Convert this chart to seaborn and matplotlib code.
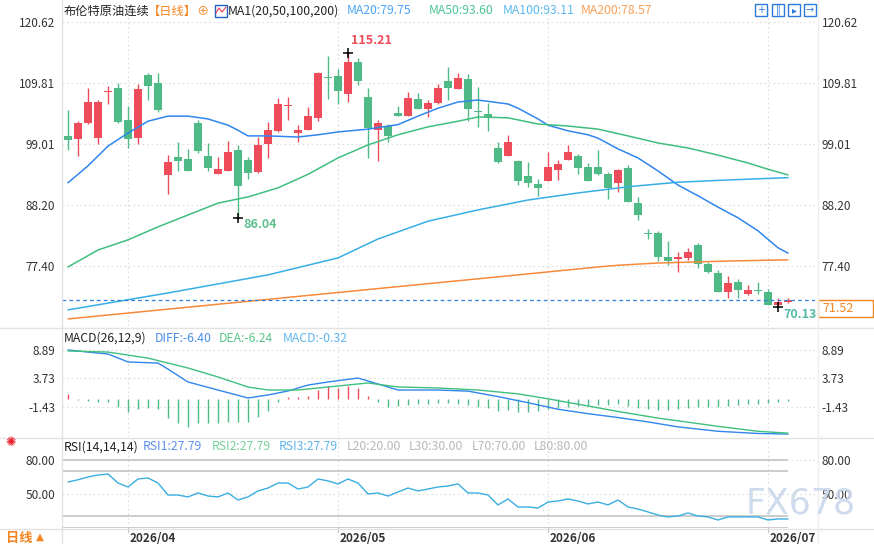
import numpy as np
import pandas as pd
import matplotlib
matplotlib.use("Agg")
import matplotlib.pyplot as plt
import matplotlib.transforms as mtrans
from matplotlib.patches import Rectangle
from matplotlib.lines import Line2D
import seaborn as sns

# ---------------- data ----------------
open_ = [100.5, 100.0, 102.7, 100.2, 108.2, 109.0, 103.3, 100.2, 111.3, 109.9,
         93.5, 96.8, 96.4, 102.8, 96.9, 93.8, 94.3, 98.0, 96.2, 94.1,
         99.1, 101.4, 105.8, 101.1, 101.5, 103.7, 110.9, 111.1, 107.9, 113.6,
         107.4, 101.6, 102.3, 104.6, 104.1, 107.0, 105.3, 106.3, 110.2, 108.8,
         110.6, 104.8, 104.4, 98.4, 96.9, 96.1, 93.4, 92.0, 92.5, 94.5,
         96.2, 96.9, 95.0, 95.0, 93.8, 92.2, 94.8, 88.6, 83.3, 83.3,
         79.1, 78.7, 78.9, 81.2, 77.8, 76.2, 72.9, 74.6, 72.5, 73.2,
         72.9, 70.6, 71.1]
high = [105.0, 103.1, 108.9, 106.85, 109.3, 109.9, 105.8, 109.7, 111.6, 111.6,
        97.1, 99.4, 98.2, 103.3, 99.2, 96.8, 99.6, 98.9, 96.8, 100.3,
        103.0, 107.2, 107.4, 102.4, 105.6, 111.8, 114.6, 112.3, 115.21, 114.3,
        109.0, 103.3, 102.6, 105.8, 108.3, 108.1, 106.9, 109.7, 112.7, 111.6,
        111.5, 109.2, 106.3, 99.4, 100.7, 96.2, 95.9, 92.9, 97.7, 96.2,
        98.9, 97.3, 95.7, 98.0, 94.1, 94.6, 95.4, 89.7, 84.0, 83.6,
        81.9, 80.0, 80.7, 81.6, 78.2, 76.8, 75.7, 75.2, 74.1, 74.6,
        73.4, 71.8, 71.75]
low = [98.0, 97.0, 102.6, 99.1, 106.2, 102.7, 98.4, 99.1, 106.9, 104.8,
       90.3, 94.3, 94.2, 97.5, 94.3, 93.8, 94.3, 86.04, 92.8, 93.9,
       96.5, 101.2, 103.4, 99.5, 101.5, 103.2, 107.0, 106.1, 106.5, 109.5,
       96.6, 96.1, 99.5, 104.0, 104.0, 105.2, 103.9, 106.1, 106.9, 108.8,
       103.1, 102.1, 101.4, 95.7, 96.9, 91.8, 91.5, 89.9, 92.5, 92.7,
       96.2, 93.8, 92.5, 93.5, 89.3, 90.6, 88.8, 85.6, 82.3, 78.4,
       77.6, 76.4, 78.5, 77.1, 76.2, 72.9, 71.8, 71.8, 72.3, 72.5,
       70.6, 70.13, 71.0]
close = [99.8, 102.8, 106.5, 106.5, 108.4, 103.0, 100.0, 108.8, 109.4, 105.1,
         95.9, 96.1, 94.2, 97.9, 94.9, 94.6, 97.6, 91.7, 94.0, 98.9,
         101.5, 106.1, 106.0, 101.5, 104.0, 111.6, 110.7, 108.5, 113.6, 110.2,
         101.9, 102.8, 100.4, 104.1, 107.2, 105.3, 106.3, 109.0, 109.0, 110.8,
         105.3, 104.7, 103.8, 95.9, 99.4, 92.5, 92.2, 91.3, 95.0, 95.5,
         97.7, 94.8, 92.5, 93.8, 91.3, 94.5, 88.8, 86.5, 83.2, 79.1,
         78.4, 79.1, 80.0, 77.8, 76.4, 72.9, 74.5, 73.2, 73.2, 73.1,
         70.6, 71.1, 71.52]

ma20_i = [0, 2, 4, 6, 8, 10, 12, 14, 16, 17, 18, 20, 23, 25, 27, 30, 33, 35, 37, 39,
          41, 44, 45, 47, 48, 50, 52, 53, 55, 57, 59, 61, 63, 65, 67, 69, 71, 72]
ma20_v = [92.2, 95.2, 98.7, 101.0, 103.1, 104.0, 104.0, 103.5, 102.4, 101.5, 100.5,
          100.5, 100.3, 100.7, 101.2, 101.7, 102.5, 104.0, 105.4, 106.5, 106.85, 106.15,
          105.4, 103.5, 102.4, 101.4, 100.7, 100.1, 98.2, 96.6, 94.3, 91.8, 89.9, 87.9,
          86.0, 83.7, 80.7, 79.75]
ma50_i = [0, 3, 6, 9, 12, 15, 18, 21, 24, 27, 30, 33, 36, 39, 41, 44, 47, 50, 53, 56,
          59, 62, 65, 68, 70, 72]
ma50_v = [77.3, 80.3, 82.1, 84.4, 86.5, 88.6, 89.7, 91.3, 93.7, 96.6, 98.9, 100.7,
          102.1, 103.1, 103.85, 103.7, 102.6, 102.25, 101.7, 100.5, 99.25, 98.36, 97.1,
          95.7, 94.6, 93.6]
ma100_i = [0, 10, 20, 27, 31, 36, 41, 46, 51, 56, 61, 66, 72]
ma100_v = [69.7, 72.7, 75.9, 78.9, 82.25, 85.4, 87.4, 89.15, 90.4, 91.5, 92.3, 92.7, 93.11]
ma200_i = [0, 15, 30, 45, 53, 55, 59, 66, 72]
ma200_v = [68.1, 70.7, 73.3, 75.9, 77.3, 77.6, 78.0, 78.35, 78.57]

diff_i = [0, 2, 4, 6, 9, 10, 12, 15, 18, 20, 22, 24, 26, 29, 30, 33, 37, 40, 43, 46,
          49, 52, 55, 58, 61, 65, 69, 72]
diff_v = [8.88, 8.5, 8.15, 6.7, 6.5, 5.4, 3.06, 1.6, 0.15, 0.7, 1.42, 2.5, 3.06, 3.78,
          3.24, 1.6, 1.6, 1.4, 0.4, -0.7, -1.9, -2.7, -3.4, -4.2, -5.1, -5.9, -6.3, -6.40]
dea_i = [0, 4, 8, 12, 15, 18, 20, 23, 26, 30, 33, 37, 41, 45, 48, 52, 55, 59, 65, 69, 72]
dea_v = [8.7, 8.5, 7.4, 5.6, 3.97, 2.15, 1.6, 1.6, 2.15, 2.88, 2.15, 1.97, 1.6, 0.9,
         0.0, -1.3, -2.3, -3.5, -5.0, -5.9, -6.24]
macd_hist = [0.9, -0.2, -0.35, -0.55, -0.55, -1.45, -2.36, -1.8, -1.6, -1.8,
             -3.45, -4.36, -5.1, -4.36, -4.36, -4.36, -4.2, -4.2, -4.2, -3.3,
             -2.2, -0.55, 0.36, 0.36, 0.55, 1.64, 2.36, 2.0, 2.36, 2.0,
             0.55, -0.55, -1.45, -1.27, -1.1, -0.9, -0.9, -0.7, -0.8, -0.9,
             -1.2, -1.5, -1.7, -2.2, -2.0, -2.4, -2.4, -2.3, -1.9, -1.6,
             -1.4, -1.3, -1.3, -1.2, -1.2, -1.0, -1.3, -1.6, -1.8, -2.0,
             -2.0, -1.8, -1.6, -1.5, -1.4, -1.5, -1.3, -1.2, -1.0, -0.9,
             -0.8, -0.6, -0.32]

rsi = [60.5, 62.5, 65.0, 66.7, 67.6, 59.6, 56.1, 63.2, 64.1, 59.6,
       49.0, 49.0, 47.3, 50.8, 48.1, 47.3, 50.8, 44.6, 47.3, 52.6,
       55.2, 59.6, 59.6, 54.3, 56.1, 63.2, 61.5, 58.8, 63.2, 59.6,
       49.9, 50.8, 48.1, 51.7, 55.2, 52.6, 54.3, 56.1, 57.0, 58.8,
       50.8, 50.8, 49.0, 40.2, 45.5, 38.4, 38.4, 37.5, 42.8, 43.7,
       45.5, 43.7, 41.1, 42.8, 40.2, 44.6, 38.4, 36.6, 34.0, 31.3,
       29.6, 30.4, 33.1, 30.4, 29.6, 26.9, 29.6, 29.6, 29.6, 29.6,
       26.9, 27.8, 27.79]
rsi_levels = [20, 30, 70, 80]

month_idx = [6, 27, 48, 70]
month_lab = ["2026/04", "2026/05", "2026/06", "2026/07"]
price_ticks = [120.62, 109.81, 99.01, 88.20, 77.40]
macd_ticks = [8.89, 3.73, -1.43]
rsi_ticks = [80.00, 50.00]

# ---------------- style ----------------
RED = "#ee4c5a"
GREEN = "#4fba86"
C_MA20, C_MA50, C_MA100, C_MA200 = "#2f86ee", "#3fbf7f", "#38aee6", "#f7893b"
ORANGE = "#f5841f"
TXT = "#333333"
GRID = "#dcdcdc"

sns.set_theme(style="white")
plt.rcParams["font.family"] = ["Noto Sans CJK SC", "DejaVu Sans"]

W, H = 874, 544
fig = plt.figure(figsize=(W / 100, H / 100), dpi=100)


def box(top, bottom, left=62, right=815):
    return [left / W, 1 - bottom / H, (right - left) / W, (bottom - top) / H]


def fx(px):
    return px / W


def fy(py):
    return 1 - py / H


ax = fig.add_axes(box(8, 326))
axm = fig.add_axes(box(330, 437))
axr = fig.add_axes(box(440, 528))

n = len(close)
idx = np.arange(n)
o = np.array(open_)
c = np.array(close)
hi = np.array(high)
lo = np.array(low)
cols = np.where(c >= o, RED, GREEN)

for a in (ax, axm, axr):
    a.set_xlim(-0.6, 74.7)
    for s in a.spines.values():
        s.set_visible(False)
    a.set_xticks([])
    a.tick_params(axis="y", length=0, labelsize=8.5, labelcolor=TXT, pad=5,
                  labelleft=True, labelright=True)
    for m in month_idx:
        a.axvline(m, color=GRID, ls=(0, (1.5, 2.5)), lw=0.8, zorder=0)

# ---------------- main panel ----------------
ax.set_ylim(66.85, 123.14)
ax.set_yticks(price_ticks)
ax.set_yticklabels([f"{t:.2f}" for t in price_ticks])
for t in price_ticks:
    ax.axhline(t, color=GRID, ls=(0, (1.5, 2.5)), lw=0.8, zorder=0)

ax.vlines(idx, lo, hi, colors=cols, lw=1.0, zorder=2)
body_lo = np.minimum(o, c)
body_h = np.maximum(np.abs(c - o), 0.18)
ax.bar(idx, body_h, bottom=body_lo, width=0.85, color=cols, linewidth=0, zorder=3)

ma = pd.concat([
    pd.DataFrame({"i": ma20_i, "v": ma20_v, "name": "MA20"}),
    pd.DataFrame({"i": ma50_i, "v": ma50_v, "name": "MA50"}),
    pd.DataFrame({"i": ma100_i, "v": ma100_v, "name": "MA100"}),
    pd.DataFrame({"i": ma200_i, "v": ma200_v, "name": "MA200"}),
])
sns.lineplot(data=ma, x="i", y="v", hue="name",
             palette={"MA20": C_MA20, "MA50": C_MA50, "MA100": C_MA100, "MA200": C_MA200},
             lw=1.1, legend=False, ax=ax, zorder=4)
ax.set_xlabel("")
ax.set_ylabel("")

# last price line and box
ax.axhline(c[-1], color="#2f7fe0", ls=(0, (3, 2.5)), lw=0.9, zorder=5)
yl = ax.transData.transform((0, c[-1]))[1]
ybox = H - yl
fig.patches.append(Rectangle((fx(818), fy(ybox + 17)), fx(55), 17 / H,
                             transform=fig.transFigure, fc="white", ec=ORANGE, lw=1))
fig.text(fx(822), fy(ybox + 8.5), f"{c[-1]:.2f}", color=ORANGE, fontsize=9, va="center")

# high / low markers
ih = int(np.argmax(hi))
il1 = int(np.argmin(lo[:40]))
il2 = int(np.argmin(lo))
ax.plot(ih, hi[ih], marker="+", color="black", ms=7, mew=1.1, zorder=6)
ax.annotate(f"{hi[ih]:.2f}", (ih, hi[ih]), xytext=(2, 4), textcoords="offset points",
            color=RED, fontsize=9, fontweight="bold", va="bottom", ha="left")
for il, col in ((il1, "#5fbf8f"), (il2, "#56b9a8")):
    ax.plot(il, lo[il], marker="+", color="black", ms=7, mew=1.1, zorder=6)
    ax.annotate(f"{lo[il]:.2f}", (il, lo[il]), xytext=(4, -5), textcoords="offset points",
                color=col, fontsize=9, fontweight="bold", va="center", ha="left")

# ---------------- MACD panel ----------------
axm.set_ylim(-6.94, 12.51)
axm.set_yticks(macd_ticks)
axm.set_yticklabels([f"{t:.2f}" for t in macd_ticks])
for t in macd_ticks:
    axm.axhline(t, color=GRID, ls=(0, (1.5, 2.5)), lw=0.8, zorder=0)
hist = np.array(macd_hist)
axm.vlines(idx, 0, hist, colors=np.where(hist >= 0, RED, GREEN), lw=1.0, zorder=2)
md = pd.concat([
    pd.DataFrame({"i": diff_i, "v": diff_v, "name": "DIFF"}),
    pd.DataFrame({"i": dea_i, "v": dea_v, "name": "DEA"}),
])
sns.lineplot(data=md, x="i", y="v", hue="name", palette={"DIFF": C_MA20, "DEA": C_MA50},
             lw=1.0, legend=False, ax=axm, zorder=3)
axm.set_xlabel("")
axm.set_ylabel("")

# ---------------- RSI panel ----------------
axr.set_ylim(19.8, 97.7)
axr.set_yticks(rsi_ticks)
axr.set_yticklabels([f"{t:.2f}" for t in rsi_ticks])
for t in rsi_ticks:
    axr.axhline(t, color=GRID, ls=(0, (1.5, 2.5)), lw=0.8, zorder=0)
axr.hlines(rsi_levels, -0.6, n - 1, colors="#c4c4c4", lw=1.2, zorder=1)
sns.lineplot(x=idx, y=rsi, color="#3aaee0", lw=1.0, ax=axr, zorder=3)
axr.set_xlabel("")
axr.set_ylabel("")
tr = mtrans.blended_transform_factory(axr.transData, fig.transFigure)
for m, lab in zip(month_idx, month_lab):
    axr.text(m + 0.2, fy(538), lab, transform=tr, fontsize=8.5, fontweight="bold",
             color=TXT, ha="left", va="center")
    axr.plot([m, m], [fy(528), fy(532)], transform=tr, color="#bbbbbb", lw=0.8,
             clip_on=False)

# ---------------- frame lines ----------------
for yy in (327.5, 437.5, 528.5):
    fig.add_artist(Line2D([0, 1], [fy(yy), fy(yy)], color="#e2e2e2", lw=1))
fig.add_artist(Line2D([fx(62), fx(62)], [0, 1], color="#e2e2e2", lw=1))
fig.add_artist(Line2D([fx(818), fx(818)], [0, 1], color="#eeeeee", lw=1))

# ---------------- header texts ----------------
def t(x, y, s, col, **kw):
    fig.text(fx(x), fy(y), s, color=col, fontsize=8.8, va="center", ha="left", **kw)


t(64, 11, "布伦特原油连续", "#222222")
t(148, 11, "【日线】", ORANGE)
t(196, 11, "⊕", ORANGE)
fig.patches.append(Rectangle((fx(215), fy(17)), fx(12), 12 / H, transform=fig.transFigure,
                             fc="white", ec="#1f5fbf", lw=1))
fig.add_artist(Line2D([fx(216), fx(219), fx(222), fx(226)], [fy(13), fy(8), fy(12), fy(7)],
                      color=RED, lw=0.9))
t(228, 11, "MA1(20,50,100,200)", "#222222")
t(347, 11, "MA20:79.75", "#4aa3f7")
t(429, 11, "MA50:93.60", "#4cc494")
t(503, 11, "MA100:93.11", "#5ab8ee")
t(581, 11, "MA200:78.57", "#f7a058")
for bx, g in zip((755, 772, 788, 804), ("+", "‖", "▸", "→")):
    fig.patches.append(Rectangle((fx(bx), fy(16)), fx(12), 12 / H, transform=fig.transFigure,
                                 fc="white", ec="#2a7ad8", lw=1))
    fig.text(fx(bx + 6), fy(10), g, color="#2a7ad8", fontsize=7, ha="center", va="center",
             family="DejaVu Sans")

t(64, 338, "MACD(26,12,9)", "#222222")
t(155, 338, "DIFF:-6.40", "#4a8fe8")
t(219, 338, "DEA:-6.24", "#5cc48a")
t(283, 338, "MACD:-0.32", "#5fb6ee")

t(64, 447, "RSI(14,14,14)", "#222222")
t(143, 447, "RSI1:27.79", "#5b8ff0")
t(212, 447, "RSI2:27.79", "#78d09a")
t(279, 447, "RSI3:27.79", "#5fb6ee")
t(347, 447, "L20:20.00", "#b8b8b8")
t(409, 447, "L30:30.00", "#b8b8b8")
t(472, 447, "L70:70.00", "#b8b8b8")
t(534, 447, "L80:80.00", "#b8b8b8")

fig.text(fx(5), fy(443), "✺", color="#e8202a", fontsize=9, va="center", ha="left",
         family="DejaVu Sans")
fig.text(fx(6), fy(538), "日线", color=ORANGE, fontsize=9.5, fontweight="bold",
         va="center", ha="left")
fig.text(fx(36), fy(537), "▲", color=ORANGE, fontsize=7.5, va="center", ha="left",
         family="DejaVu Sans")

# watermark
fig.text(fx(746), fy(503), "FX678", color="#c9d8ea", fontsize=25, va="center", ha="left",
         family="DejaVu Sans", alpha=0.9, zorder=10)

fig.savefig("out.png", dpi=100)
